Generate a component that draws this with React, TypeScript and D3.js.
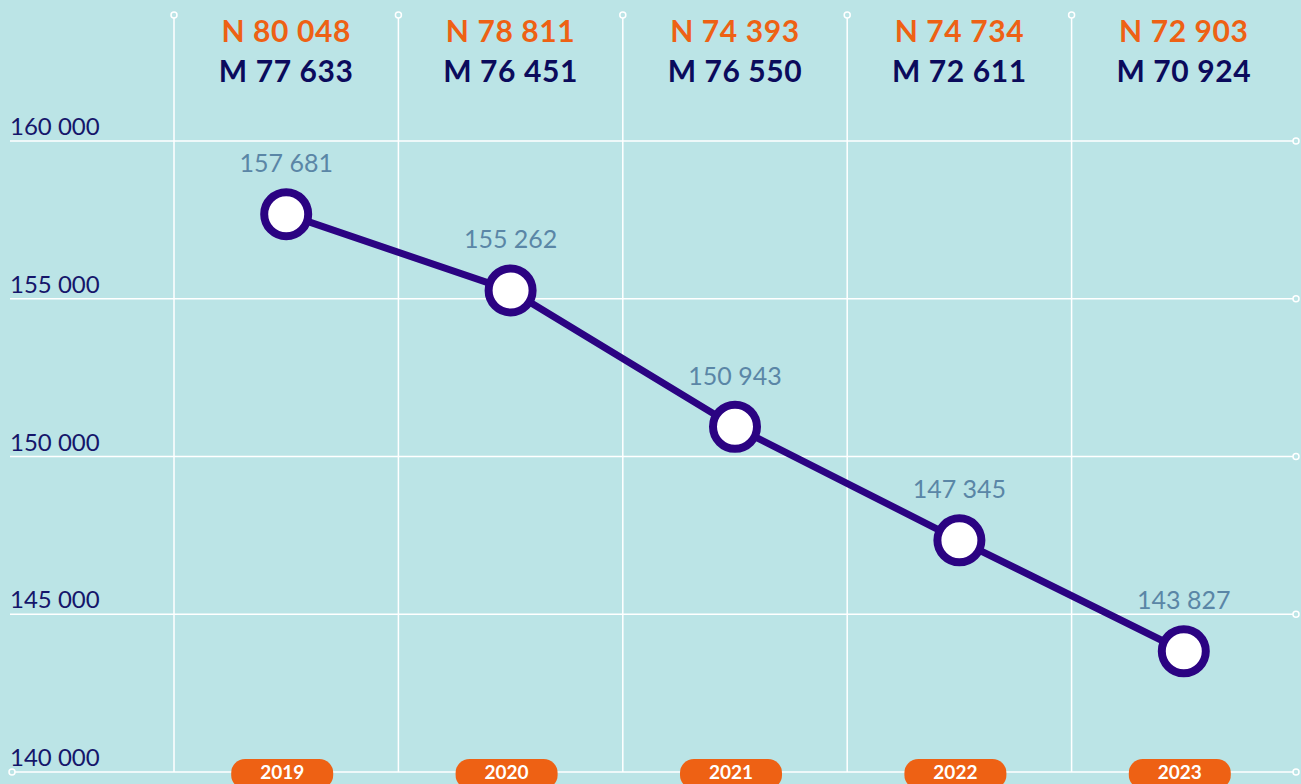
import React from "react";
import * as d3 from "d3";

const years = ["2019", "2020", "2021", "2022", "2023"];
const totals = [157681, 155262, 150943, 147345, 143827];
const nValues = ["80 048", "78 811", "74 393", "74 734", "72 903"];
const mValues = ["77 633", "76 451", "76 550", "72 611", "70 924"];
const yTicks = [140000, 145000, 150000, 155000, 160000];

const W = 1301;
const H = 784;
const BG = "#bbe4e6";
const LINE = "#2b0382";
const ORANGE = "#ee6114";
const NAVY = "#0b0b5c";
const VALUE = "#5a86a6";
const FONT = "Lato, 'Open Sans', sans-serif";

const fmt = (v: number) => d3.format(",")(v).replace(/,/g, " ");

export default function App() {
  const x = d3.scaleBand<string>().domain(years).range([174, 1296]);
  const y = d3.scaleLinear().domain([140000, 160000]).range([772, 141]);
  const cx = (yr: string) => (x(yr) as number) + x.bandwidth() / 2;

  const line = d3
    .line<number>()
    .x((_, i) => cx(years[i]))
    .y((d) => y(d));

  return (
    <svg
      width={W}
      height={H}
      style={{ position: "absolute", left: 0, top: 0, display: "block" }}
      fontFamily={FONT}
    >
      <rect width={W} height={H} fill={BG} />

      {/* horizontal gridlines with end markers */}
      {yTicks.map((t) => (
        <g key={t}>
          <line x1={10} x2={1293} y1={y(t)} y2={y(t)} stroke="#fff" strokeWidth={1.5} />
          <circle cx={1296} cy={y(t)} r={3} fill={BG} stroke="#fff" strokeWidth={1.5} />
          <text x={10} y={y(t) - 6} fontSize={24} fill="#15156a">
            {fmt(t)}
          </text>
        </g>
      ))}
      <circle cx={12} cy={y(140000)} r={3} fill={BG} stroke="#fff" strokeWidth={1.5} />

      {/* vertical column dividers */}
      {years.map((yr) => (
        <g key={yr}>
          <line x1={x(yr)} x2={x(yr)} y1={18} y2={772} stroke="#fff" strokeWidth={1.5} />
          <circle cx={x(yr)} cy={15} r={3} fill={BG} stroke="#fff" strokeWidth={1.5} />
        </g>
      ))}

      {/* N / M breakdown per year */}
      {years.map((yr, i) => (
        <g key={"nm" + yr} textAnchor="middle" fontWeight={700} fontSize={30} letterSpacing={0.6}>
          <text x={cx(yr)} y={42} fill={ORANGE}>
            {"N " + nValues[i]}
          </text>
          <text x={cx(yr)} y={82} fill={NAVY}>
            {"M " + mValues[i]}
          </text>
        </g>
      ))}

      {/* total series */}
      <path d={line(totals) as string} fill="none" stroke={LINE} strokeWidth={7} />
      {totals.map((v, i) => (
        <g key={"p" + i}>
          <circle cx={cx(years[i])} cy={y(v)} r={22} fill="#fff" stroke={LINE} strokeWidth={8} />
          <text
            x={cx(years[i])}
            y={y(v) - 42}
            textAnchor="middle"
            fontSize={25}
            fontWeight={400}
            fill={VALUE}
          >
            {fmt(v)}
          </text>
        </g>
      ))}

      {/* year pills */}
      {years.map((yr) => (
        <g key={"pill" + yr}>
          <rect x={cx(yr) - 55} y={759} width={102} height={30} rx={14} fill={ORANGE} />
          <text
            x={cx(yr) - 4}
            y={779}
            textAnchor="middle"
            fontSize={19}
            fontWeight={700}
            fill="#fff"
          >
            {yr}
          </text>
        </g>
      ))}
    </svg>
  );
}
